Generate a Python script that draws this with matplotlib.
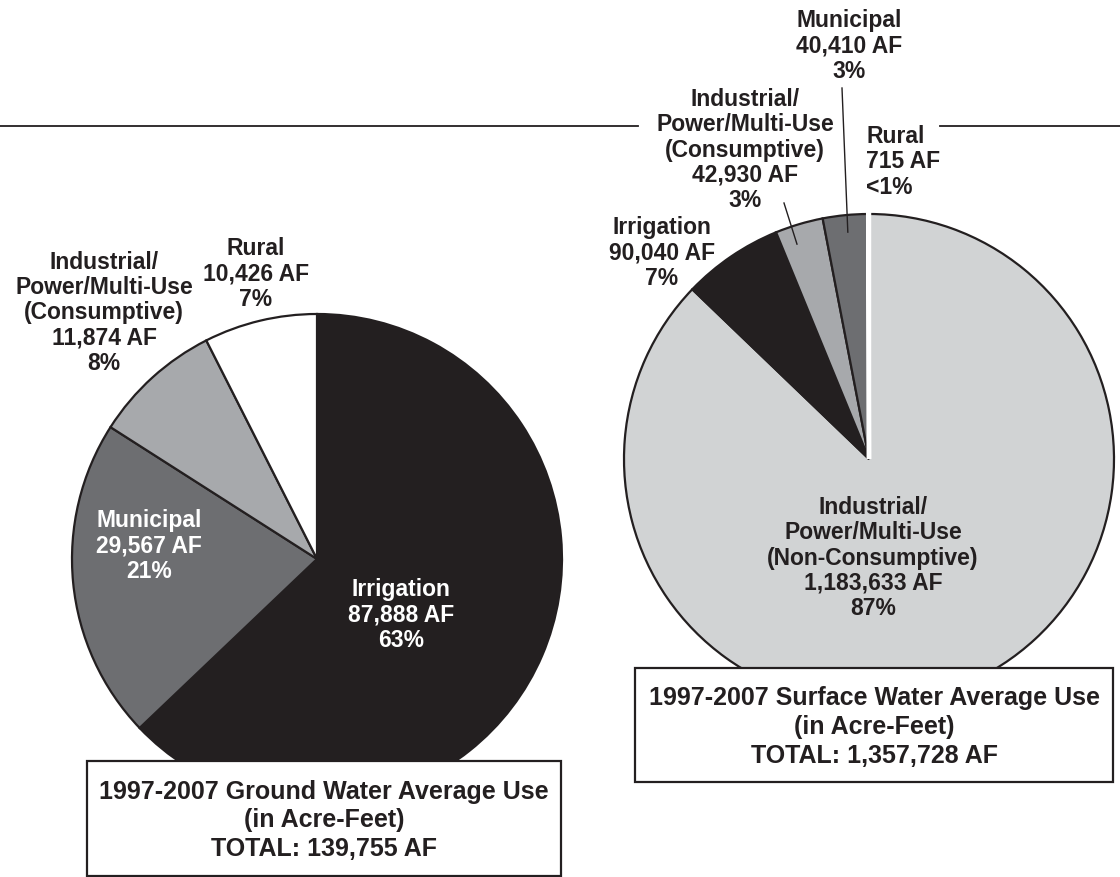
import matplotlib
matplotlib.use("Agg")
import matplotlib.pyplot as plt
from matplotlib.patches import Rectangle
import numpy as np

# ---------------- data ----------------
gw_labels = ["Irrigation", "Municipal", "Industrial/\nPower/Multi-Use\n(Consumptive)", "Rural"]
gw_values = [87888, 29567, 11874, 10426]
gw_pct = ["63%", "21%", "8%", "7%"]
gw_colors = ["#231f20", "#6d6e71", "#a7a9ac", "#ffffff"]
gw_title = "1997-2007 Ground Water Average Use\n(in Acre-Feet)\nTOTAL: 139,755 AF"

sw_labels = ["Industrial/\nPower/Multi-Use\n(Non-Consumptive)", "Irrigation",
             "Industrial/\nPower/Multi-Use\n(Consumptive)", "Municipal", "Rural"]
sw_values = [1183633, 90040, 42930, 40410, 715]
sw_pct = ["87%", "7%", "3%", "3%", "<1%"]
sw_colors = ["#d1d3d4", "#231f20", "#a7a9ac", "#6d6e71", "#ffffff"]
sw_title = "1997-2007 Surface Water Average Use\n(in Acre-Feet)\nTOTAL: 1,357,728 AF"

# ---------------- layout ----------------
W, H = 1120, 878
INK = "#231f20"
FONT = ["Liberation Sans", "DejaVu Sans"]
FS = 16.5
LS = 1.13
TFS = 18.0
TLS = 1.24


def Y(y):
    return H - y


def fmt_af(v):
    return f"{v:,} AF"


fig = plt.figure(figsize=(W / 100, H / 100), dpi=100)
ax = fig.add_axes([0, 0, 1, 1])

R = 245
gw_center = (317, Y(560))
sw_center = (869, Y(460))

wp = dict(edgecolor=INK, linewidth=1.6)
gw_wedges, _ = ax.pie(gw_values, colors=gw_colors, startangle=90, counterclock=False,
                      center=gw_center, radius=R, wedgeprops=wp, frame=True)
sw_wedges, _ = ax.pie(sw_values, colors=sw_colors, startangle=90, counterclock=False,
                      center=sw_center, radius=R, wedgeprops=wp, frame=True)
# tiny rural slice rendered as a white separator
sw_wedges[-1].set_edgecolor("white")
sw_wedges[-1].set_linewidth(3.2)

ax.set_xlim(0, W)
ax.set_ylim(0, H)
ax.axis("off")


def txt(x, y, s, color=INK, ha="center"):
    ax.text(x, Y(y), s, ha=ha, va="center", fontsize=FS, fontweight="bold",
            family=FONT, color=color, linespacing=LS, zorder=6)


def lab(labels, values, pct, i):
    return f"{labels[i]}\n{fmt_af(values[i])}\n{pct[i]}"


# horizontal rule
ax.plot([0, 638], [Y(127), Y(127)], color=INK, lw=1.3)
ax.plot([940, W], [Y(127), Y(127)], color=INK, lw=1.3)

# ground water labels (y = centre of text block)
txt(104, 313, lab(gw_labels, gw_values, gw_pct, 2))
txt(256, 274, lab(gw_labels, gw_values, gw_pct, 3))
txt(149, 546, lab(gw_labels, gw_values, gw_pct, 1), color="white")
txt(401, 615, lab(gw_labels, gw_values, gw_pct, 0), color="white")

# surface water labels
txt(849, 46, lab(sw_labels, sw_values, sw_pct, 3))
txt(745, 150, lab(sw_labels, sw_values, sw_pct, 2))
txt(866, 162, lab(sw_labels, sw_values, sw_pct, 4), ha="left")
txt(662, 253, lab(sw_labels, sw_values, sw_pct, 1))
txt(873, 558, lab(sw_labels, sw_values, sw_pct, 0))


def wedge_point(w, center, frac_angle, frac_r):
    th = np.deg2rad(w.theta1 + (w.theta2 - w.theta1) * frac_angle)
    return center[0] + R * frac_r * np.cos(th), center[1] + R * frac_r * np.sin(th)


# leader lines
mx, my = wedge_point(sw_wedges[3], sw_center, 0.48, 0.93)
ax.plot([842, mx], [Y(89), my], color=INK, lw=1.0, zorder=5)
ix, iy = wedge_point(sw_wedges[2], sw_center, 0.67, 0.925)
ax.plot([784, ix], [Y(204), iy], color=INK, lw=1.0, zorder=5)

# title boxes
for (x0, y0, x1, y1, t) in [(87, 762, 561, 877, gw_title), (635, 669, 1113, 783, sw_title)]:
    ax.add_patch(Rectangle((x0, Y(y1)), x1 - x0, y1 - y0, facecolor="white",
                           edgecolor=INK, lw=1.6, zorder=5))
    ax.text((x0 + x1) / 2, Y((y0 + y1) / 2 + 1), t, ha="center", va="center",
            fontsize=TFS, fontweight="bold", family=FONT, color=INK,
            linespacing=TLS, zorder=6)

fig.savefig("out.png", dpi=100)
